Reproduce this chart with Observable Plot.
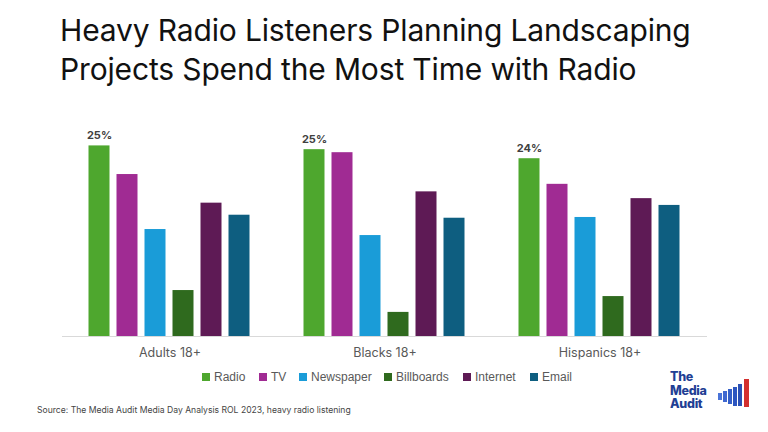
<!DOCTYPE html>
<html>
<head>
<meta charset="utf-8">
<script src="https://cdn.jsdelivr.net/npm/d3@7"></script>
<script src="https://cdn.jsdelivr.net/npm/@observablehq/plot@0.6"></script>
<style>
  html, body { margin: 0; padding: 0; background: #fff; }
  body { width: 768px; height: 432px; position: relative; overflow: hidden; font-family: Inter, "Open Sans", sans-serif; }
  #title { position: absolute; left: 60px; top: 11px; font-size: 30px; line-height: 39px; color: #111; letter-spacing: -0.15px; }
  #chart { position: absolute; left: 0; top: 100px; }
  #legend { position: absolute; top: 370px; left: 0; font-size: 12px; color: #595959; font-family: "Liberation Sans", Arial, sans-serif; }
  .item { position: absolute; white-space: nowrap; display: flex; align-items: center; }
  .sw { width: 8px; height: 8px; margin-right: 4px; display: inline-block; }
  #source { position: absolute; left: 37px; top: 405px; font-size: 8.6px; color: #444; }
  #logo { position: absolute; left: 670px; top: 370px; width: 90px; height: 45px; }
  #logo .txt { font-family: Inter, sans-serif; font-weight: 800; color: #1f3f94; font-size: 12.5px; line-height: 13.5px; letter-spacing: -0.3px; }
</style>
</head>
<body>
<div id="title">Heavy Radio Listeners Planning Landscaping<br>Projects Spend the Most Time with Radio</div>
<div id="chart"></div>
<div id="legend"></div>
<div id="source">Source: The Media Audit Media Day Analysis ROL 2023, heavy radio listening</div>
<div id="logo">
  <div class="txt">The<br>Media<br>Audit</div>
  <svg width="36" height="30" style="position:absolute;left:46px;top:8px" viewBox="0 0 36 30">
    <rect x="2" y="15" width="4" height="7" fill="#4a74d8"/>
    <rect x="7" y="13" width="4" height="11" fill="#3f68d0"/>
    <rect x="12" y="11" width="4" height="15" fill="#3560c8"/>
    <rect x="17" y="9" width="4" height="19" fill="#2c56c0"/>
    <rect x="22" y="6" width="4" height="22" fill="#2a50b4"/>
    <rect x="28" y="1" width="5" height="28" fill="#d3302f"/>
  </svg>
</div>
<script>
const groups = ["Adults 18+", "Blacks 18+", "Hispanics 18+"];
const series = ["Radio", "TV", "Newspaper", "Billboards", "Internet", "Email"];
const colors = ["#4ea72e", "#a02b93", "#1a9cd8", "#2f6a1e", "#5e1a55", "#0e5e80"];
const adults = [25.3, 21.5, 14.2, 6.1, 17.7, 16.1];
const blacks = [24.8, 24.4, 13.4, 3.2, 19.2, 15.7];
const hispanics = [23.6, 20.2, 15.8, 5.3, 18.3, 17.4];
const radioLabels = ["25%", "25%", "24%"];

const values = [adults, blacks, hispanics];
const data = [];
groups.forEach((g, gi) => series.forEach((s, si) => {
  data.push({group: g, series: s, value: values[gi][si], label: si === 0 ? radioLabels[gi] : ""});
}));

const plot = Plot.plot({
  width: 768,
  height: 268,
  marginLeft: 61.5,
  marginRight: 61.5,
  marginTop: 10,
  marginBottom: 32,
  style: {fontFamily: "Inter, 'Open Sans', sans-serif", background: "transparent"},
  fx: {domain: groups, padding: 0, label: null, axis: null},
  x: {domain: series, paddingInner: 0.24, paddingOuter: 0.87, axis: null},
  y: {domain: [0, 30], axis: null},
  color: {domain: series, range: colors},
  marks: [
    Plot.barY(data, {fx: "group", x: "series", y: "value", fill: "series"}),
    Plot.text(data.filter(d => d.label), {fx: "group", x: "series", y: "value", text: "label", dy: -10, fontSize: 11, fontWeight: 700, fill: "#404040"}),
    Plot.axisFx({anchor: "bottom", tickSize: 0, tickPadding: 12, fontSize: 12.5, color: "#595959", label: null}),
    Plot.ruleY([0], {stroke: "#d9d9d9", strokeWidth: 1})
  ]
});
document.getElementById("chart").appendChild(plot);

const legendX = [202, 259, 299, 384, 463, 530];
const leg = document.getElementById("legend");
series.forEach((s, i) => {
  const it = document.createElement("div");
  it.className = "item";
  it.style.left = legendX[i] + "px";
  it.innerHTML = `<span class="sw" style="background:${colors[i]}"></span>${s}`;
  leg.appendChild(it);
});
</script>
</body>
</html>
